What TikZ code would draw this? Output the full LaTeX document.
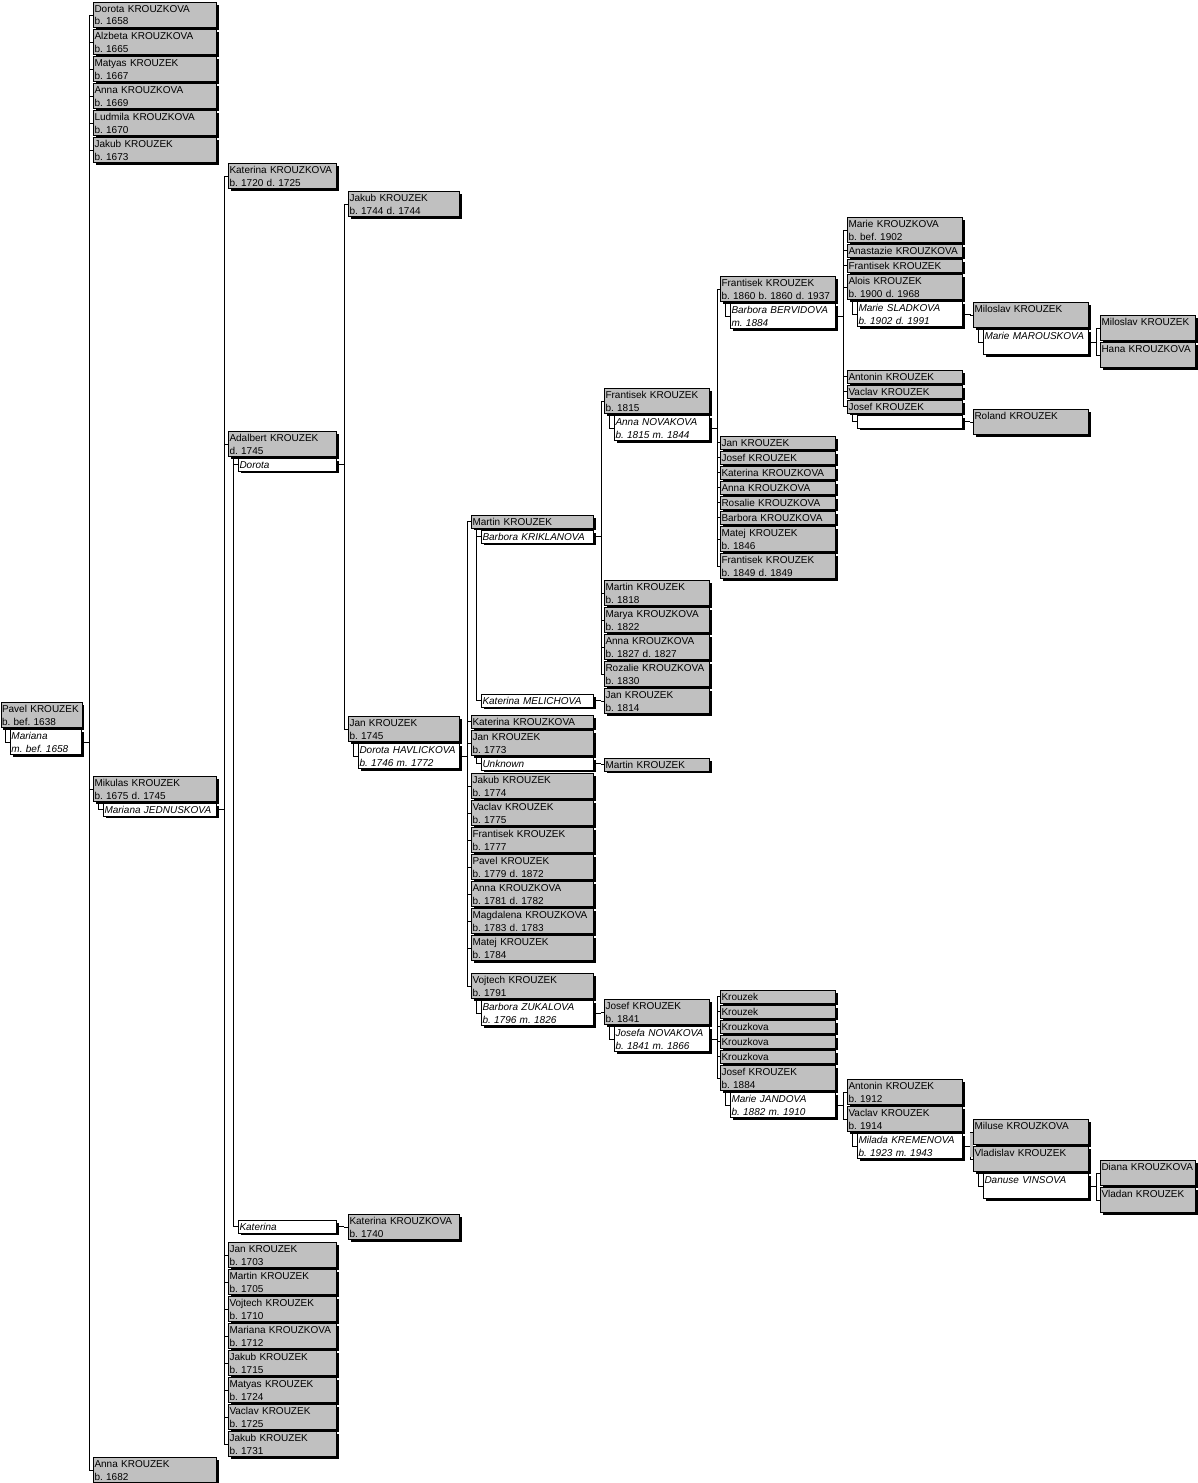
\documentclass[tikz,border=0pt]{standalone}
\usepackage{fontspec}
\setmainfont{Liberation Sans}
\usetikzlibrary{shadows,calc}

\definecolor{boxgray}{RGB}{192,192,192}
\newcommand{\boxstrut}{\rule[-2.5pt]{0pt}{12.5pt}}
% family bus: from the spouse box to every child
\newcommand{\kids}[2]{%
  \draw (#1.east) -- ++(7,0) coordinate (bus);
  \foreach \c in {#2} \draw (bus) |- (\c.west);
}

\begin{document}
\begin{tikzpicture}[
    x=1pt, y=-1pt, line width=1pt,
    every node/.style={font=\fontsize{10}{12.5}\selectfont\frenchspacing},
    person/.style={draw, fill=boxgray, anchor=north west, align=left,
      inner xsep=1pt, inner ysep=0pt,
      drop shadow={shadow xshift=2pt, shadow yshift=-2pt, fill=black, opacity=1},
      execute at begin node=\boxstrut, execute at end node=\boxstrut},
    spouse/.style={person, fill=white,
      font=\fontsize{10}{12.5}\selectfont\frenchspacing\itshape},
    c0/.style={text width=79pt},  s0/.style={text width=69pt},
    c1/.style={text width=121pt}, s1/.style={text width=111pt},
    c2/.style={text width=106pt}, s2/.style={text width=96pt},
    c3/.style={text width=109pt}, s3/.style={text width=99pt},
    c4/.style={text width=120pt}, s4/.style={text width=110pt},
    c5/.style={text width=103pt}, s5/.style={text width=93pt},
    c6/.style={text width=113pt}, s6/.style={text width=103pt},
    c9/.style={text width=93pt}
]
  \useasboundingbox (0,0) rectangle (1197,1483);

  % generation 0
  \node[person,c0] (pavel) at (0.5,702) {Pavel KROUZEK\\b. bef. 1638};
  \node[spouse,s0] (mariana) at (10,729) {Mariana\\m. bef. 1658};

  % generation 1
  \node[person,c1] (dorota1658) at (93,2) {Dorota KROUZKOVA\\b. 1658};
  \node[person,c1] (alzbeta1665) at (93,29) {Alzbeta KROUZKOVA\\b. 1665};
  \node[person,c1] (matyas1667) at (93,56) {Matyas KROUZEK\\b. 1667};
  \node[person,c1] (anna1669) at (93,83) {Anna KROUZKOVA\\b. 1669};
  \node[person,c1] (ludmila1670) at (93,110) {Ludmila KROUZKOVA\\b. 1670};
  \node[person,c1] (jakub1673) at (93,137) {Jakub KROUZEK\\b. 1673};
  \node[person,c1] (mikulas1675) at (93,776) {Mikulas KROUZEK\\b. 1675 d. 1745};
  \node[spouse,s1] (jednuskova) at (103,803) {Mariana JEDNUSKOVA};
  \node[person,c1] (anna1682) at (93,1457) {Anna KROUZEK\\b. 1682};

  % generation 2
  \node[person,c2] (katerina1720) at (228,163) {Katerina KROUZKOVA\\b. 1720 d. 1725};
  \node[person,c2] (adalbert) at (228,431) {Adalbert KROUZEK\\d. 1745};
  \node[spouse,s2] (dorotaw) at (238,458) {Dorota};
  \node[spouse,s2] (katerinaw) at (238,1220) {Katerina};
  \node[person,c2] (jan1703) at (228,1242) {Jan KROUZEK\\b. 1703};
  \node[person,c2] (martin1705) at (228,1269) {Martin KROUZEK\\b. 1705};
  \node[person,c2] (vojtech1710) at (228,1296) {Vojtech KROUZEK\\b. 1710};
  \node[person,c2] (mariana1712) at (228,1323) {Mariana KROUZKOVA\\b. 1712};
  \node[person,c2] (jakub1715) at (228,1350) {Jakub KROUZEK\\b. 1715};
  \node[person,c2] (matyas1724) at (228,1377) {Matyas KROUZEK\\b. 1724};
  \node[person,c2] (vaclav1725) at (228,1404) {Vaclav KROUZEK\\b. 1725};
  \node[person,c2] (jakub1731) at (228,1431) {Jakub KROUZEK\\b. 1731};

  % generation 3
  \node[person,c3] (jakub1744) at (348,191) {Jakub KROUZEK\\b. 1744 d. 1744};
  \node[person,c3] (jan1745) at (348,716) {Jan KROUZEK\\b. 1745};
  \node[spouse,s3] (havlickova) at (358,743) {Dorota HAVLICKOVA\\b. 1746 m. 1772};
  \node[person,c3] (katerina1740) at (348,1214) {Katerina KROUZKOVA\\b. 1740};

  % generation 4
  \node[person,c4] (martin) at (471,515) {Martin KROUZEK};
  \node[spouse,s4] (kriklanova) at (481,530) {Barbora KRIKLANOVA};
  \node[spouse,s4] (melichova) at (481,694) {Katerina MELICHOVA};
  \node[person,c4] (katerinaK) at (471,715) {Katerina KROUZKOVA};
  \node[person,c4] (jan1773) at (471,730) {Jan KROUZEK\\b. 1773};
  \node[spouse,s4] (unknown) at (481,757) {Unknown};
  \node[person,c4] (jakub1774) at (471,773) {Jakub KROUZEK\\b. 1774};
  \node[person,c4] (vaclav1775) at (471,800) {Vaclav KROUZEK\\b. 1775};
  \node[person,c4] (frantisek1777) at (471,827) {Frantisek KROUZEK\\b. 1777};
  \node[person,c4] (pavel1779) at (471,854) {Pavel KROUZEK\\b. 1779 d. 1872};
  \node[person,c4] (anna1781) at (471,881) {Anna KROUZKOVA\\b. 1781 d. 1782};
  \node[person,c4] (magdalena1783) at (471,908) {Magdalena KROUZKOVA\\b. 1783 d. 1783};
  \node[person,c4] (matej1784) at (471,935) {Matej KROUZEK\\b. 1784};
  \node[person,c4] (vojtech1791) at (471,973) {Vojtech KROUZEK\\b. 1791};
  \node[spouse,s4] (zukalova) at (481,1000) {Barbora ZUKALOVA\\b. 1796 m. 1826};

  % generation 5
  \node[person,c5] (frantisek1815) at (604,388) {Frantisek KROUZEK\\b. 1815};
  \node[spouse,s5] (novakova) at (614,415) {Anna NOVAKOVA\\b. 1815 m. 1844};
  \node[person,c5] (martin1818) at (604,580) {Martin KROUZEK\\b. 1818};
  \node[person,c5] (marya1822) at (604,607) {Marya KROUZKOVA\\b. 1822};
  \node[person,c5] (anna1827) at (604,634) {Anna KROUZKOVA\\b. 1827 d. 1827};
  \node[person,c5] (rozalie1830) at (604,661) {Rozalie KROUZKOVA\\b. 1830};
  \node[person,c5] (jan1814) at (604,688) {Jan KROUZEK\\b. 1814};
  \node[person,c5] (martinU) at (604,758) {Martin KROUZEK};
  \node[person,c5] (josef1841) at (604,999) {Josef KROUZEK\\b. 1841};
  \node[spouse,s5] (josefa) at (614,1026) {Josefa NOVAKOVA\\b. 1841 m. 1866};

  % generation 6
  \node[person,c6] (frantisek1860) at (720,276) {Frantisek KROUZEK\\b. 1860 b. 1860 d. 1937};
  \node[spouse,s6] (bervidova) at (730,303) {Barbora BERVIDOVA\\m. 1884};
  \node[person,c6] (janF) at (720,436) {Jan KROUZEK};
  \node[person,c6] (josefF) at (720,451) {Josef KROUZEK};
  \node[person,c6] (katerinaF) at (720,466) {Katerina KROUZKOVA};
  \node[person,c6] (annaF) at (720,481) {Anna KROUZKOVA};
  \node[person,c6] (rosalieF) at (720,496) {Rosalie KROUZKOVA};
  \node[person,c6] (barboraF) at (720,511) {Barbora KROUZKOVA};
  \node[person,c6] (matej1846) at (720,526) {Matej KROUZEK\\b. 1846};
  \node[person,c6] (frantisek1849) at (720,553) {Frantisek KROUZEK\\b. 1849 d. 1849};
  \node[person,c6] (krouzekA) at (720,990) {Krouzek};
  \node[person,c6] (krouzekB) at (720,1005) {Krouzek};
  \node[person,c6] (krouzkovaA) at (720,1020) {Krouzkova};
  \node[person,c6] (krouzkovaB) at (720,1035) {Krouzkova};
  \node[person,c6] (krouzkovaC) at (720,1050) {Krouzkova};
  \node[person,c6] (josef1884) at (720,1065) {Josef KROUZEK\\b. 1884};
  \node[spouse,s6] (jandova) at (730,1092) {Marie JANDOVA\\b. 1882 m. 1910};

  % generation 7
  \node[person,c6] (marie1902) at (847,217) {Marie KROUZKOVA\\b. bef. 1902};
  \node[person,c6] (anastazie) at (847,244) {Anastazie KROUZKOVA};
  \node[person,c6] (frantisekB) at (847,259) {Frantisek KROUZEK};
  \node[person,c6] (alois1900) at (847,274) {Alois KROUZEK\\b. 1900 d. 1968};
  \node[spouse,s6] (sladkova) at (857,301) {Marie SLADKOVA\\b. 1902 d. 1991};
  \node[person,c6] (antoninB) at (847,370) {Antonin KROUZEK};
  \node[person,c6] (vaclavB) at (847,385) {Vaclav KROUZEK};
  \node[person,c6] (josefB) at (847,400) {Josef KROUZEK};
  \node[spouse,s6] (nobody) at (857,415) {};
  \node[person,c6] (antonin1912) at (847,1079) {Antonin KROUZEK\\b. 1912};
  \node[person,c6] (vaclav1914) at (847,1106) {Vaclav KROUZEK\\b. 1914};
  \node[spouse,s6] (kremenova) at (857,1133) {Milada KREMENOVA\\b. 1923 m. 1943};

  % generation 8
  \node[person,c6] (miloslav) at (973,302) {Miloslav KROUZEK\\};
  \node[spouse,s6] (marouskova) at (983,329) {Marie MAROUSKOVA\\};
  \node[person,c6] (roland) at (973,409) {Roland KROUZEK\\};
  \node[person,c6] (miluse) at (973,1119) {Miluse KROUZKOVA\\};
  \node[person,c6] (vladislav) at (973,1146) {Vladislav KROUZEK\\};
  \node[spouse,s6] (vinsova) at (983,1173) {Danuse VINSOVA\\};

  % generation 9
  \node[person,c9] (miloslavJ) at (1100,315) {Miloslav KROUZEK\\};
  \node[person,c9] (hana) at (1100,342) {Hana KROUZKOVA\\};
  \node[person,c9] (diana) at (1100,1160) {Diana KROUZKOVA\\};
  \node[person,c9] (vladan) at (1100,1187) {Vladan KROUZEK\\};

  % marriages
  \foreach \p/\s in {pavel/mariana, mikulas1675/jednuskova,
      adalbert/dorotaw, adalbert/katerinaw, jan1745/havlickova,
      martin/kriklanova, martin/melichova, jan1773/unknown,
      vojtech1791/zukalova, frantisek1815/novakova, josef1841/josefa,
      frantisek1860/bervidova, josef1884/jandova, alois1900/sladkova,
      josefB/nobody, vaclav1914/kremenova, miloslav/marouskova,
      vladislav/vinsova}
    \draw ($(\p.south west)+(5,0)$) |- (\s.west);

  % children
  \kids{mariana}{dorota1658, alzbeta1665, matyas1667, anna1669,
    ludmila1670, jakub1673, mikulas1675, anna1682}
  \kids{jednuskova}{katerina1720, adalbert, jan1703, martin1705,
    vojtech1710, mariana1712, jakub1715, matyas1724, vaclav1725, jakub1731}
  \kids{dorotaw}{jakub1744, jan1745}
  \kids{katerinaw}{katerina1740}
  \kids{havlickova}{martin, katerinaK, jan1773, jakub1774, vaclav1775,
    frantisek1777, pavel1779, anna1781, magdalena1783, matej1784, vojtech1791}
  \kids{kriklanova}{frantisek1815, martin1818, marya1822, anna1827, rozalie1830}
  \kids{melichova}{jan1814}
  \kids{unknown}{martinU}
  \kids{zukalova}{josef1841}
  \kids{novakova}{frantisek1860, janF, josefF, katerinaF, annaF, rosalieF,
    barboraF, matej1846, frantisek1849}
  \kids{josefa}{krouzekA, krouzekB, krouzkovaA, krouzkovaB, krouzkovaC, josef1884}
  \kids{bervidova}{marie1902, anastazie, frantisekB, alois1900, antoninB,
    vaclavB, josefB}
  \kids{jandova}{antonin1912, vaclav1914}
  \kids{sladkova}{miloslav}
  \kids{nobody}{roland}
  \kids{kremenova}{miluse, vladislav}
  \kids{marouskova}{miloslavJ, hana}
  \kids{vinsova}{diana, vladan}

  \fill[boxgray] (969.5,1133) rectangle (972.5,1157);
\end{tikzpicture}
\end{document}
